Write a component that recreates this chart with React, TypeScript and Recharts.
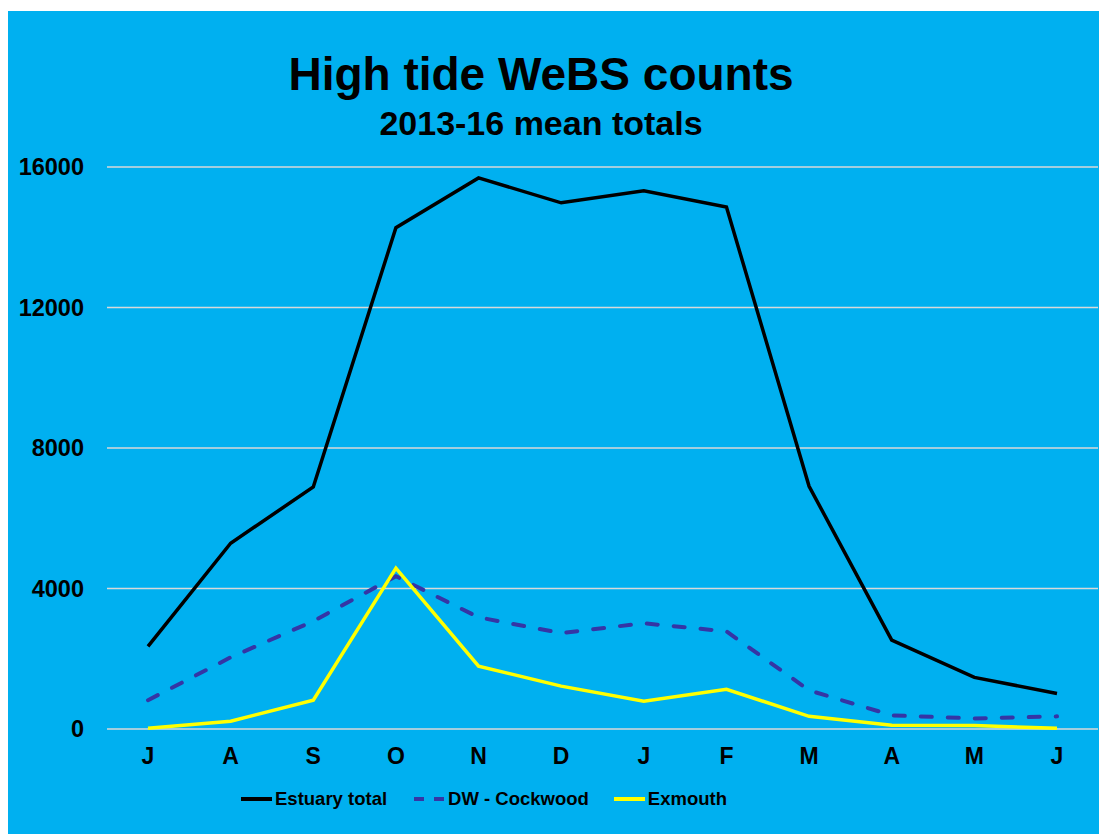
import { CartesianGrid, Legend, Line, LineChart, XAxis, YAxis } from "recharts";

const months = ["J", "A", "S", "O", "N", "D", "J", "F", "M", "A", "M", "J"];
const estuaryTotal = [2350, 5290, 6890, 14270, 15690, 14980, 15320, 14860, 6910, 2530, 1470, 1010];
const dwCockwood = [820, 2040, 3070, 4350, 3180, 2730, 3010, 2780, 1100, 390, 300, 360];
const exmouth = [20, 220, 820, 4580, 1790, 1220, 790, 1130, 360, 110, 100, 20];
const yTicks = [0, 4000, 8000, 12000, 16000];

const data = months.map((m, i) => ({
  month: m,
  estuary: estuaryTotal[i],
  dw: dwCockwood[i],
  exmouth: exmouth[i],
}));

const FONT = '"Liberation Sans", Arial, sans-serif';
const BG = "#00B0F0";
const DW_COLOR = "#3535A5";

function LegendRow() {
  const items = [
    { label: "Estuary total", color: "#000000", dash: undefined, gap: 26 },
    { label: "DW - Cockwood", color: DW_COLOR, dash: "10 10", gap: 24 },
    { label: "Exmouth", color: "#FFFF00", dash: undefined, gap: 0 },
  ];
  return (
    <div style={{ display: "flex", alignItems: "center", height: 30, paddingLeft: 232 }}>
      {items.map((it) => (
        <div key={it.label} style={{ display: "flex", alignItems: "center", marginRight: it.gap }}>
          <svg width={33} height={10} style={{ marginRight: 2 }}>
            <line x1={1} y1={5} x2={32} y2={5} stroke={it.color} strokeWidth={4} strokeDasharray={it.dash} />
          </svg>
          <span style={{ fontFamily: FONT, fontWeight: 700, fontSize: 18.5, color: "#000" }}>{it.label}</span>
        </div>
      ))}
    </div>
  );
}

export default function App() {
  return (
    <div style={{ paddingTop: 3 }}>
      <div style={{ position: "relative", width: 1099, height: 823, background: BG }}>
        <svg width={1099} height={140} style={{ position: "absolute", left: 0, top: 0, pointerEvents: "none" }}>
          <text x={533} y={79} textAnchor="middle" fontFamily={FONT} fontWeight={700} fontSize={46} fill="#000">
            High tide WeBS counts
          </text>
          <text x={533} y={124} textAnchor="middle" fontFamily={FONT} fontWeight={700} fontSize={34} fill="#000">
            2013-16 mean totals
          </text>
        </svg>
        <LineChart width={1099} height={823} data={data} margin={{ top: 156, right: 9, left: 0, bottom: 20 }}>
          <CartesianGrid vertical={false} stroke="#D9D9D9" strokeWidth={1.5} />
          <XAxis
            dataKey="month"
            axisLine={false}
            tickLine={false}
            tickSize={0}
            tickMargin={19}
            height={55}
            padding={{ left: 41, right: 41 }}
            tick={{ fill: "#000", fontFamily: FONT, fontWeight: 700, fontSize: 23 }}
          />
          <YAxis
            domain={[0, 16000]}
            ticks={yTicks}
            axisLine={false}
            tickLine={false}
            tickSize={0}
            tickMargin={23}
            width={99}
            tick={{ fill: "#000", fontFamily: FONT, fontWeight: 700, fontSize: 23.5 }}
          />
          <Legend verticalAlign="bottom" content={() => <LegendRow />} />
          <Line dataKey="estuary" stroke="#000000" strokeWidth={3.5} dot={false} isAnimationActive={false} />
          <Line
            dataKey="dw"
            stroke={DW_COLOR}
            strokeWidth={4}
            strokeDasharray="11 16"
            strokeLinecap="round"
            dot={false}
            isAnimationActive={false}
          />
          <Line dataKey="exmouth" stroke="#FFFF00" strokeWidth={3.5} dot={false} isAnimationActive={false} />
        </LineChart>
      </div>
    </div>
  );
}
